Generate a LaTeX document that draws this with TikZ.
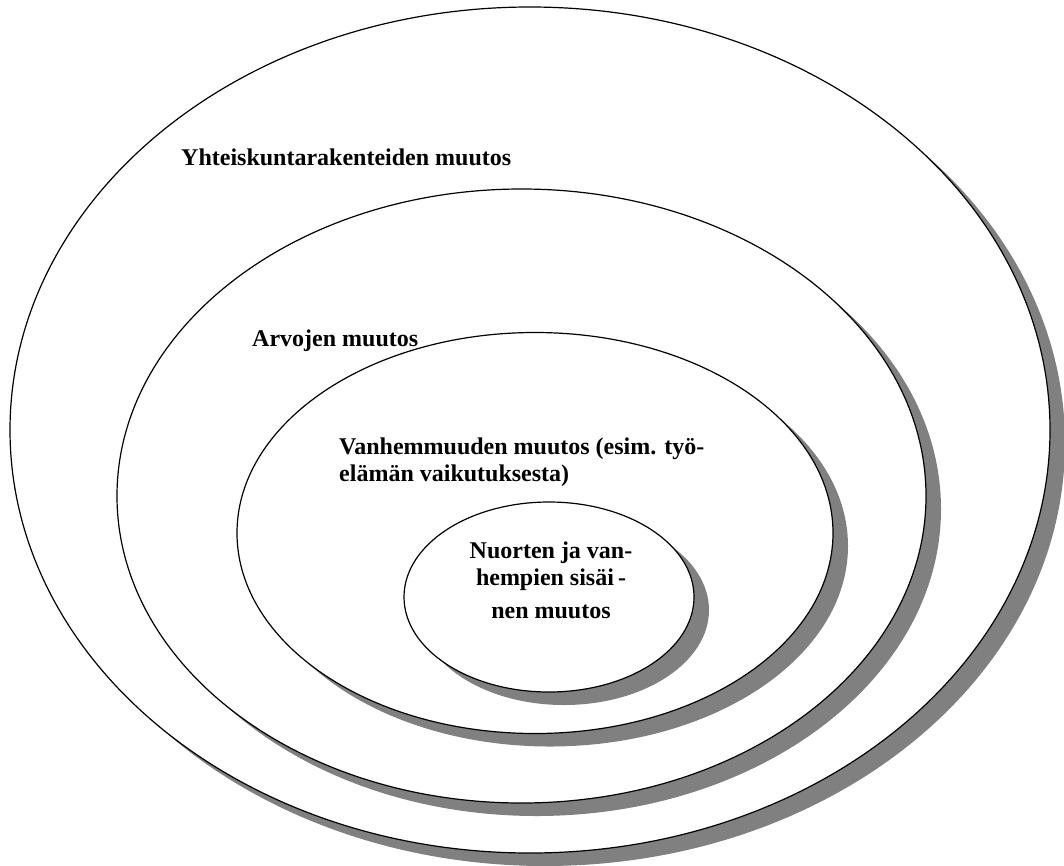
\documentclass[tikz,border=0pt]{standalone}
\usepackage{fontspec}
\setmainfont{Liberation Serif}
\usetikzlibrary{shapes.geometric,shadows}

\begin{document}
\begin{tikzpicture}
		[x=1pt,y=-1pt,
		ring/.style={ellipse,draw=black,fill=white,line width=1.2pt,
inner sep=0pt,drop shadow={shadow xshift=15pt,shadow yshift=-13pt,fill=black!50,opacity=1}},
		textstyle/.style={font=\bfseries\fontsize{24}{27}\selectfont,inner sep=0pt}]
		\useasboundingbox (0,0) rectangle (1064,865);
		\node at (530,430) (society) [ring,minimum width=1040pt,minimum height=846pt] {};
		\node at (521.5,496) (values) [ring,minimum width=809pt,minimum height=614pt] {};
		\node at (535,533) (parents) [ring,minimum width=596pt,minimum height=401pt] {};
		\node at (549,597) (inner) [ring,minimum width=290pt,minimum height=190pt] {};
		\node at (181,165) (societytext) [textstyle,anchor=base west] {Yhteiskuntarakenteiden muutos};
		\node at (252,346) (valuestext) [textstyle,anchor=base west] {Arvojen muutos};
		\node at (339,481) (parentstext) [textstyle,anchor=base west,align=left]
			{Vanhemmuuden muutos (esim. työ-\\elämän vaikutuksesta)};
		\node at (551,618) (innertext) [textstyle,anchor=base,align=center]
			{Nuorten ja van-\\hempien sisäi\,-\\[6pt]nen muutos};
\end{tikzpicture}
\end{document}
